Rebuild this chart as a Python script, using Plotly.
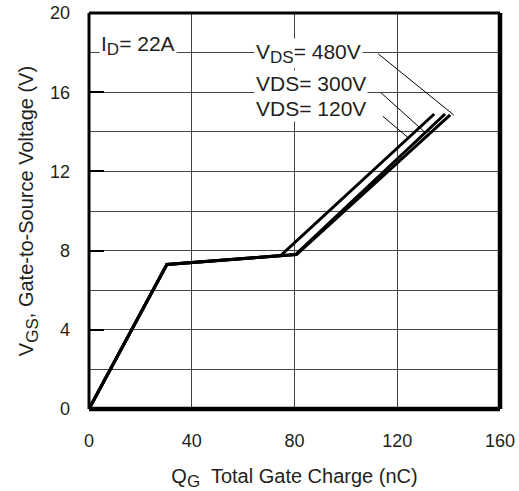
import numpy as np
import plotly.graph_objects as go

# ---- data ----
qg_120 = [0, 30.3, 74.6, 134.4]
vgs_120 = [0, 7.3, 7.75, 14.9]
qg_300 = [0, 30.3, 80.4, 138.6]
vgs_300 = [0, 7.3, 7.8, 14.9]
qg_480 = [0, 30.3, 80.8, 140.6]
vgs_480 = [0, 7.3, 7.8, 14.85]

x_ticks = [0, 40, 80, 120, 160]
y_ticks = [0, 4, 8, 12, 16, 20]

FONT = "Liberation Sans, Arial, Helvetica, sans-serif"
TXT = "#231f20"

fig = go.Figure()
for xs, ys in [(qg_120, vgs_120), (qg_300, vgs_300), (qg_480, vgs_480)]:
    fig.add_trace(go.Scatter(x=xs, y=ys, mode="lines",
                             line=dict(color="black", width=3),
                             showlegend=False, hoverinfo="skip"))

# leader lines: (start x, start y) -> point on curve at given x
leaders = [
    (112.0, 18.0, qg_480, vgs_480, 142.0, 14.85),
    (113.0, 16.05, qg_300, vgs_300, 130.9, None),
    (113.8, 14.85, qg_120, vgs_120, 124.3, None),
]
for sx, sy, xs, ys, tx, ty in leaders:
    if ty is None:
        ty = float(np.interp(tx, xs, ys))
    fig.add_annotation(x=tx, y=ty, ax=sx, ay=sy, axref="x", ayref="y",
                       xref="x", yref="y", text="", showarrow=True,
                       arrowhead=0, arrowwidth=1, arrowcolor="black",
                       standoff=0, startstandoff=0)

SUB = "<sub><span style='font-size:17px'>{}</span></sub>"
labels = [
    ("I" + SUB.format("D") + "= 22A", 4.0, 18.35),
    ("V" + SUB.format("DS") + "= 480V", 64.4, 17.95),
    ("VDS= 300V", 64.4, 16.45),
    ("VDS= 120V", 64.4, 15.2),
]
for txt, lx, ly in labels:
    fig.add_annotation(x=lx, y=ly, xref="x", yref="y", text=txt,
                       showarrow=False, xanchor="left", yanchor="middle",
                       bgcolor="white", borderpad=1,
                       font=dict(family=FONT, size=21, color=TXT))

# frame
frame = [
    (0, 1, 0, 0, 4.5), (0, 1, 1, 1, 3), (0, 0, 0, 1, 3), (1, 1, 0, 1, 4.5),
]
for x0, x1, y0, y1, w in frame:
    fig.add_shape(type="line", xref="paper", yref="paper",
                  x0=x0, x1=x1, y0=y0, y1=y1,
                  line=dict(color="black", width=w), layer="above")

fig.update_layout(
    width=519, height=491,
    margin=dict(l=89, r=19, t=13, b=82),
    paper_bgcolor="white", plot_bgcolor="white",
    font=dict(family=FONT, size=18, color=TXT),
    xaxis=dict(range=[0, 160], tickvals=x_ticks, showgrid=True,
               gridcolor="#444444", gridwidth=1, zeroline=False,
               showline=False, ticks="", ticklabelstandoff=19,
               automargin=False, ticklabeloverflow="allow",
               tickfont=dict(size=18, color=TXT),
               title=dict(text="Q" + SUB.format("G") + "  Total Gate Charge (nC)",
                          font=dict(size=20, color=TXT), standoff=21)),
    yaxis=dict(range=[0, 20], tickvals=y_ticks, showgrid=True,
               gridcolor="#444444", gridwidth=1, zeroline=False,
               showline=False, ticks="inside", ticklen=15, tickwidth=2,
               tickcolor="black", ticklabelstandoff=18,
               automargin=False, ticklabeloverflow="allow",
               minor=dict(dtick=2, showgrid=True, gridcolor="#444444",
                          gridwidth=1, ticks=""),
               tickfont=dict(size=18, color=TXT),
               title=dict(text="V" + SUB.format("GS") + ", Gate-to-Source Voltage (V)",
                          font=dict(size=20, color=TXT), standoff=10)),
)

# remove the page's default body margin so the figure fills the window
fig.write_html("out.html", config={"displayModeBar": False},
               post_script="document.body.style.margin='0';")
